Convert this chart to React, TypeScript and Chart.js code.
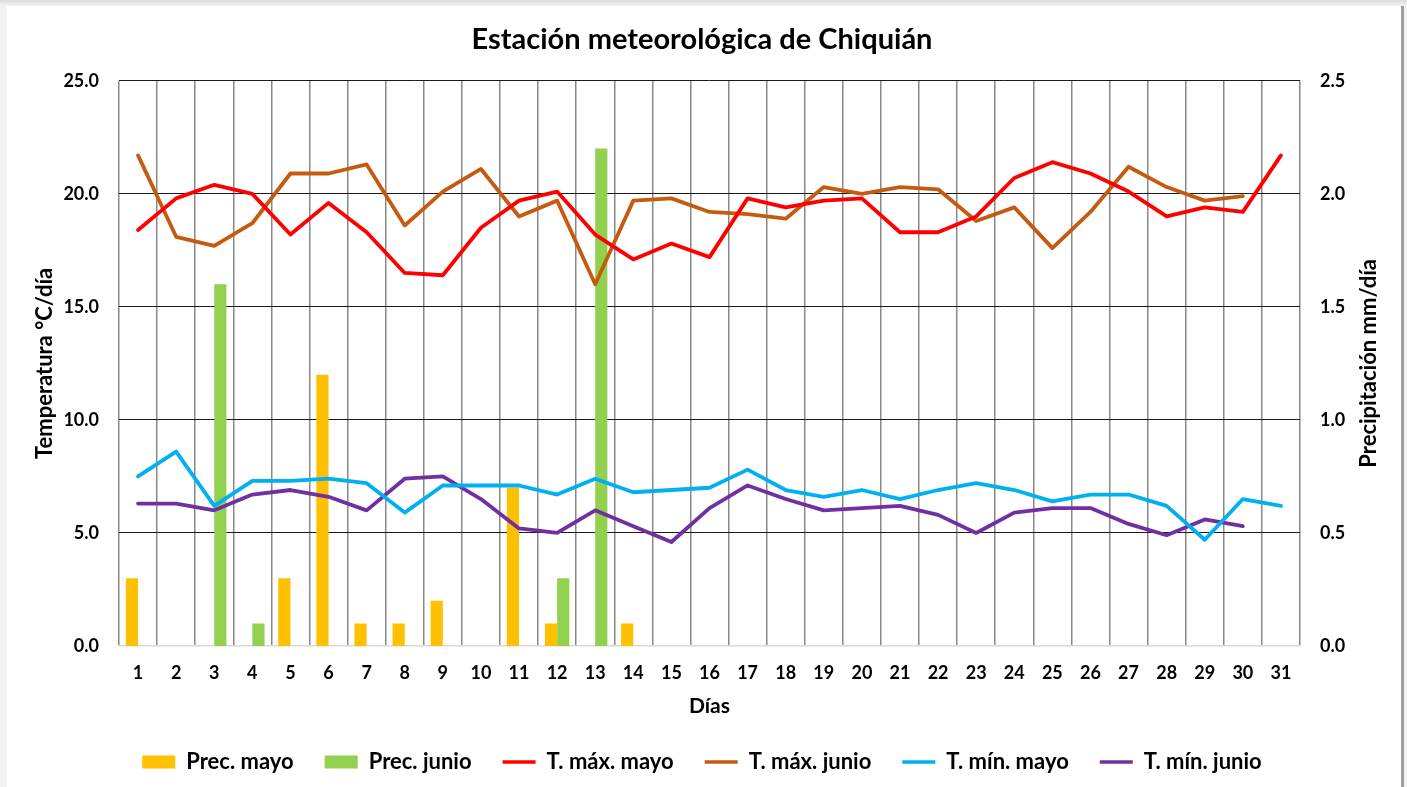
import React, { useEffect, useRef } from 'react';
import { Chart, registerables } from 'chart.js';

Chart.register(...registerables);

const days = ['1','2','3','4','5','6','7','8','9','10','11','12','13','14','15','16','17','18','19','20','21','22','23','24','25','26','27','28','29','30','31'];

const precMayo = [0.3, 0, 0, 0, 0.3, 1.2, 0.1, 0.1, 0.2, 0, 0.7, 0.1, 0, 0.1, 0, 0, 0, 0, 0, 0, 0, 0, 0, 0, 0, 0, 0, 0, 0, 0, 0];
const precJunio = [0, 0, 1.6, 0.1, 0, 0, 0, 0, 0, 0, 0, 0.3, 2.2, 0, 0, 0, 0, 0, 0, 0, 0, 0, 0, 0, 0, 0, 0, 0, 0, 0, 0];

const tMaxMayo = [18.4, 19.8, 20.4, 20.0, 18.2, 19.6, 18.3, 16.5, 16.4, 18.5, 19.7, 20.1, 18.2, 17.1, 17.8, 17.2, 19.8, 19.4, 19.7, 19.8, 18.3, 18.3, 19.0, 20.7, 21.4, 20.9, 20.1, 19.0, 19.4, 19.2, 21.7];
const tMaxJunio = [21.7, 18.1, 17.7, 18.7, 20.9, 20.9, 21.3, 18.6, 20.1, 21.1, 19.0, 19.7, 16.0, 19.7, 19.8, 19.2, 19.1, 18.9, 20.3, 20.0, 20.3, 20.2, 18.8, 19.4, 17.6, 19.2, 21.2, 20.3, 19.7, 19.9, null];
const tMinMayo = [7.5, 8.6, 6.2, 7.3, 7.3, 7.4, 7.2, 5.9, 7.1, 7.1, 7.1, 6.7, 7.4, 6.8, 6.9, 7.0, 7.8, 6.9, 6.6, 6.9, 6.5, 6.9, 7.2, 6.9, 6.4, 6.7, 6.7, 6.2, 4.7, 6.5, 6.2];
const tMinJunio = [6.3, 6.3, 6.0, 6.7, 6.9, 6.6, 6.0, 7.4, 7.5, 6.5, 5.2, 5.0, 6.0, 5.3, 4.6, 6.1, 7.1, 6.5, 6.0, 6.1, 6.2, 5.8, 5.0, 5.9, 6.1, 6.1, 5.4, 4.9, 5.6, 5.3, null];

const rightTitle = 'Precipitación mm/día';

const FONT = 'Lato, "Open Sans", sans-serif';

const rightTitlePlugin = {
  id: 'rightTitle',
  afterDraw(chart: any) {
    const { ctx, chartArea } = chart;
    ctx.save();
    ctx.font = `bold 22px ${FONT}`;
    ctx.fillStyle = '#000';
    ctx.textAlign = 'center';
    ctx.textBaseline = 'middle';
    ctx.translate(chartArea.right + 69, (chartArea.top + chartArea.bottom) / 2);
    ctx.rotate(-Math.PI / 2);
    ctx.fillText(rightTitle, 0, 0);
    ctx.restore();
  },
};

export default function App() {
  const ref = useRef<HTMLCanvasElement | null>(null);

  useEffect(() => {
    document.body.style.margin = '0';
    if (!ref.current) return;
    const lineDs = (label: string, data: (number | null)[], color: string) => ({
      type: 'line' as const,
      label,
      data,
      yAxisID: 'y',
      borderColor: color,
      backgroundColor: color,
      borderWidth: 3.8,
      pointRadius: 0,
      tension: 0,
      borderJoinStyle: 'round' as const,
      borderCapStyle: 'round' as const,
      spanGaps: false,
      order: 0,
    });
    const chart = new Chart(ref.current, {
      type: 'bar',
      data: {
        labels: days,
        datasets: [
          { type: 'bar', label: 'Prec. mayo', data: precMayo, yAxisID: 'y1', backgroundColor: '#FFC000', borderWidth: 0, order: 1, categoryPercentage: 0.64, barPercentage: 1.0 } as any,
          { type: 'bar', label: 'Prec. junio', data: precJunio, yAxisID: 'y1', backgroundColor: '#92D050', borderWidth: 0, order: 1, categoryPercentage: 0.64, barPercentage: 1.0 } as any,
          lineDs('T. máx. mayo', tMaxMayo, '#FF0000'),
          lineDs('T. máx. junio', tMaxJunio, '#C55A11'),
          lineDs('T. mín. mayo', tMinMayo, '#00B0F0'),
          lineDs('T. mín. junio', tMinJunio, '#7030A0'),
        ],
      },
      plugins: [rightTitlePlugin],
      options: {
        responsive: false,
        animation: false,
        layout: { padding: { left: 16, right: 20, top: 0, bottom: 4 } },
        plugins: {
          tooltip: { enabled: false },
          title: {
            display: true,
            text: 'Estación meteorológica de Chiquián',
            color: '#000',
            font: { family: FONT, size: 29, weight: 'bold' },
            padding: { top: 16, bottom: 24 },
          },
          legend: {
            position: 'bottom',
            labels: {
              usePointStyle: true,
              pointStyleWidth: 33,
              boxHeight: 13,
              padding: 31,
              color: '#000',
              font: { family: FONT, size: 22, weight: 'bold' },
              generateLabels: (c: any) => {
                const items = Chart.defaults.plugins.legend.labels.generateLabels(c);
                return items
                  .map((it: any) => {
                    const ds: any = c.data.datasets[it.datasetIndex];
                    const isBar = ds.type === 'bar';
                    return {
                      ...it,
                      pointStyle: isBar ? 'rect' : 'line',
                      lineWidth: isBar ? 0 : 3.5,
                      strokeStyle: isBar ? ds.backgroundColor : ds.borderColor,
                      fillStyle: ds.backgroundColor,
                      lineCap: 'butt',
                    };
                  })
                  .sort((a: any, b: any) => a.datasetIndex - b.datasetIndex);
              },
            },
          },
        },
        scales: {
          x: {
            offset: true,
            grid: { display: true, offset: true, color: '#888888', lineWidth: 1.5, drawTicks: false },
            border: { display: true, color: '#d9d9d9', width: 1.5 },
            ticks: { color: '#000', padding: 16, font: { family: FONT, size: 18, weight: 'bold' }, maxRotation: 0, autoSkip: false },
            title: { display: true, text: 'Días', color: '#000', font: { family: FONT, size: 21, weight: 'bold' }, padding: { top: 0, bottom: 1 } },
            afterFit: (s: any) => { s.height = 74; },
          },
          y: {
            position: 'left',
            min: 0,
            max: 25,
            grid: { color: (ctx: any) => (ctx.tick && ctx.tick.value === 0 ? 'rgba(0,0,0,0)' : '#1a1a1a'), lineWidth: 1, drawTicks: false },
            border: { display: false },
            ticks: { stepSize: 5, color: '#000', padding: 20, font: { family: FONT, size: 18, weight: 'bold' }, callback: (v: any) => Number(v).toFixed(1) },
            title: { display: true, text: 'Temperatura °C/día', color: '#000', font: { family: FONT, size: 22, weight: 'bold' }, padding: { top: 9, bottom: 0 } },
            afterFit: (s: any) => { s.width = 96; },
          },
          y1: {
            position: 'right',
            min: 0,
            max: 2.5,
            grid: { display: false, drawTicks: false },
            border: { display: false },
            ticks: { stepSize: 0.5, color: '#000', padding: 20, font: { family: FONT, size: 18, weight: 'bold' }, callback: (v: any) => Number(v).toFixed(1) },
            title: { display: false },
            afterFit: (s: any) => { s.width = 81; },
          },
        },
      },
    });
    return () => chart.destroy();
  }, []);

  return (
    <div style={{ position: 'relative', width: 1407, height: 787, background: 'linear-gradient(180deg, #dcdcdc 0px, #f2f2f2 6px, #f2f2f2 100%)', overflow: 'hidden' }}>
      <div style={{ position: 'absolute', left: 7, top: 6, width: 1394, height: 781, background: '#fff', borderRight: '3px solid #a0a0a0' }}>
        <canvas ref={ref} width={1394} height={781} style={{ width: 1394, height: 781, display: 'block' }} />
      </div>
    </div>
  );
}
